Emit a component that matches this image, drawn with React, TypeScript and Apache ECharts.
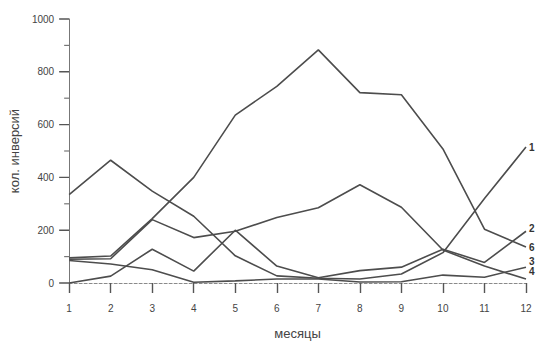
import React, { useEffect, useRef } from "react";
import * as echarts from "echarts";

const months = ["1", "2", "3", "4", "5", "6", "7", "8", "9", "10", "11", "12"];
const yTicks = { min: 0, max: 1000, interval: 200 };
const yMajorTicks = [0, 200, 400, 600, 800, 1000];
const yMinorTicks = [100, 300, 500, 700, 900];

const series1 = [335, 465, 348, 253, 103, 27, 18, 15, 34, 115, 320, 515];
const series2 = [0, 26, 128, 45, 200, 64, 20, 47, 60, 128, 78, 196];
const series3 = [85, 72, 50, 3, 8, 15, 15, 4, 5, 30, 22, 60];
const series4 = [90, 92, 240, 172, 196, 248, 285, 372, 287, 125, 64, 15];
const series6 = [95, 102, 244, 400, 636, 745, 883, 721, 713, 508, 204, 136];

const seriesNames = ["1", "2", "3", "4", "6"];
const seriesData = [series1, series2, series3, series4, series6];
const labelShift = [0, -3, -6, -8, 0];

const xName = "месяцы";
const yName = "кол. инверсий";

export default function App() {
  const ref = useRef<HTMLDivElement>(null);
  useEffect(() => {
    if (!ref.current) return;
    const chart = echarts.init(ref.current, null, { renderer: "svg" });
    const lineColor = "#4d4d4d";

    chart.setOption({
      animation: false,
      backgroundColor: "#ffffff",
      grid: { left: 67, right: 10, top: 19, bottom: 61 },
      xAxis: {
        type: "category",
        data: months,
        boundaryGap: false,
        name: xName,
        nameLocation: "middle",
        nameGap: 44,
        nameTextStyle: { fontFamily: "Liberation Sans", fontSize: 13, color: "#444" },
        axisLine: { show: true, lineStyle: { color: "#8a8a8a", type: [3, 2], width: 1 } },
        axisTick: { show: true, length: 10, lineStyle: { color: "#555", width: 1.4 } },
        axisLabel: { margin: 20, fontFamily: "Liberation Sans", fontSize: 10, color: "#444" },
      },
      yAxis: {
        type: "value",
        min: yTicks.min,
        max: yTicks.max,
        interval: yTicks.interval,
        name: yName,
        nameLocation: "middle",
        nameGap: 43,
        nameTextStyle: { fontFamily: "Liberation Sans", fontSize: 13, color: "#444" },
        axisLine: { show: true, lineStyle: { color: "#777", width: 1 } },
        axisTick: { show: false },
        axisLabel: {
          margin: 15,
          fontFamily: "Liberation Sans",
          fontSize: 10,
          color: "#444",
          formatter: (v: number) => String(v),
        },
        splitLine: { show: false },
      },
      series: seriesData.map((d, i) => ({
        type: "line",
        name: seriesNames[i],
        data: d,
        symbol: "none",
        smooth: false,
        z: 3,
        lineStyle: { color: lineColor, width: 1.6 },
        endLabel: {
          show: true,
          formatter: seriesNames[i],
          distance: 3,
          offset: [0, labelShift[i]],
          fontFamily: "Liberation Sans",
          fontSize: 10,
          fontWeight: "bold",
          color: "#333",
        },
      })),
    });

    const x0 = chart.convertToPixel({ xAxisIndex: 0 }, 0) as number;
    const tickRects: any[] = [];
    yMajorTicks.forEach((v) => {
      const y = chart.convertToPixel({ yAxisIndex: 0 }, v) as number;
      tickRects.push({
        type: "rect",
        silent: true,
        shape: { x: x0 - 10, y: y - 0.7, width: 10, height: 1.4 },
        style: { fill: "#555" },
      });
    });
    yMinorTicks.forEach((v) => {
      const y = chart.convertToPixel({ yAxisIndex: 0 }, v) as number;
      tickRects.push({
        type: "rect",
        silent: true,
        shape: { x: x0 - 5, y: y - 0.6, width: 5, height: 1.2 },
        style: { fill: "#777" },
      });
    });
    chart.setOption({ graphic: tickRects });

    return () => chart.dispose();
  }, []);
  return (
    <div
      ref={ref}
      style={{ position: "fixed", left: 0, top: 0, width: 536, height: 345 }}
    />
  );
}
